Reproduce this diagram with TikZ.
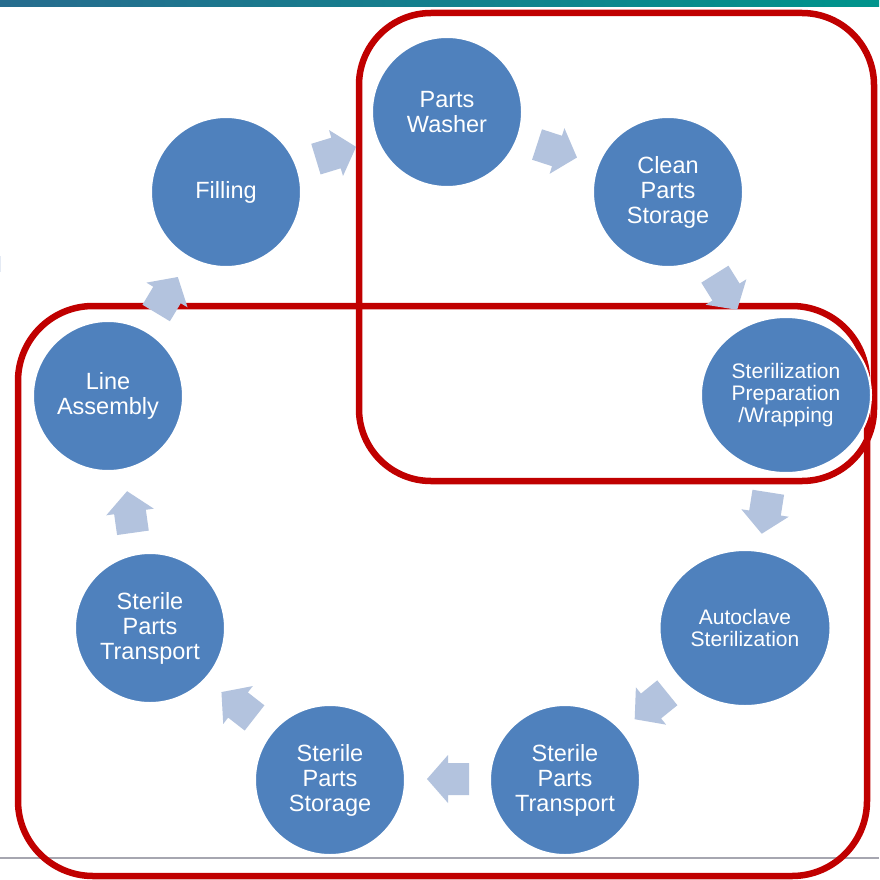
\documentclass[tikz,border=0pt]{standalone}
\usepackage{fontspec}
\setmainfont{Liberation Sans}
\usetikzlibrary{shapes.geometric}
\definecolor{nodeblue}{RGB}{79,129,189}
\definecolor{arrowfill}{RGB}{179,195,222}
\definecolor{boxred}{RGB}{192,0,0}
\definecolor{rulegray}{RGB}{166,166,176}
\definecolor{barleft}{RGB}{38,108,142}
\definecolor{barmid}{RGB}{64,126,136}
\definecolor{barright}{RGB}{0,148,140}
\tikzset{
  stage/.style={circle, fill=nodeblue, draw=white, line width=2pt, minimum size=150pt,
    inner sep=0pt, text=white, align=center, font=\fontsize{23.5}{25}\selectfont},
  stagewide/.style={ellipse, fill=nodeblue, draw=white, line width=2pt,
    inner sep=0pt, text=white, align=center, font=\fontsize{21}{22}\selectfont},
  redbox/.style={draw=boxred, line width=6.5pt},
  pics/blockarrow/.style={code={
    \fill[arrowfill] (-21,-16) -- (0,-16) -- (0,-24) -- (21,0) -- (0,24) -- (0,16) -- (-21,16) -- cycle;}}
}
\begin{document}
\begin{tikzpicture}[x=1pt,y=-1pt]
\useasboundingbox (0,0) rectangle (879,880);
\fill[white] (0,0) rectangle (879,880);
% top bar
\shade[left color=barleft, middle color=barmid, right color=barright] (0,0) rectangle (879,7);
% bottom rule
\draw[rulegray, line width=1.5pt] (0,858) -- (879,858);
% faint sliver at left edge
\fill[arrowfill!35] (0,256) rectangle (1.2,272);
% red grouping boxes
\draw[redbox, rounded corners=72pt] (359,13) rectangle (874,481);
\draw[redbox, rounded corners=75pt] (18,306) rectangle (867,876);
% stages
\node[stage] (washer) at (447,112) {Parts\\Washer};
\node[stage] (clean) at (668,192) {Clean\\Parts\\Storage};
\node[stagewide, minimum width=170pt, minimum height=156pt] (prep) at (786,395) {Sterilization\\Preparation\\/Wrapping};
\node[stagewide, minimum width=171pt, minimum height=156pt] (auto) at (745,628) {Autoclave\\Sterilization};
\node[stage] (transR) at (565,780) {Sterile\\Parts\\Transport};
\node[stage] (storage) at (330,780) {Sterile\\Parts\\Storage};
\node[stage] (transL) at (150,628) {Sterile\\Parts\\Transport};
\node[stage] (line) at (108,396) {Line\\Assembly};
\node[stage] (filling) at (226,192) {Filling};
% block arrows
\pic[rotate=17] (a1) at (336,153) {blockarrow};
\pic[rotate=-18] (a2) at (557,151) {blockarrow};
\pic[rotate=-58] (a3) at (726,292) {blockarrow};
\pic[rotate=-99] (a4) at (765,513) {blockarrow};
\pic[rotate=-141] (a5) at (651,706) {blockarrow};
\pic[rotate=180] (a6) at (448,779) {blockarrow};
\pic[rotate=142] (a7) at (238,705) {blockarrow};
\pic[rotate=98] (a8) at (130,512) {blockarrow};
\pic[rotate=59] (a9) at (167,295) {blockarrow};
\end{tikzpicture}
\end{document}
